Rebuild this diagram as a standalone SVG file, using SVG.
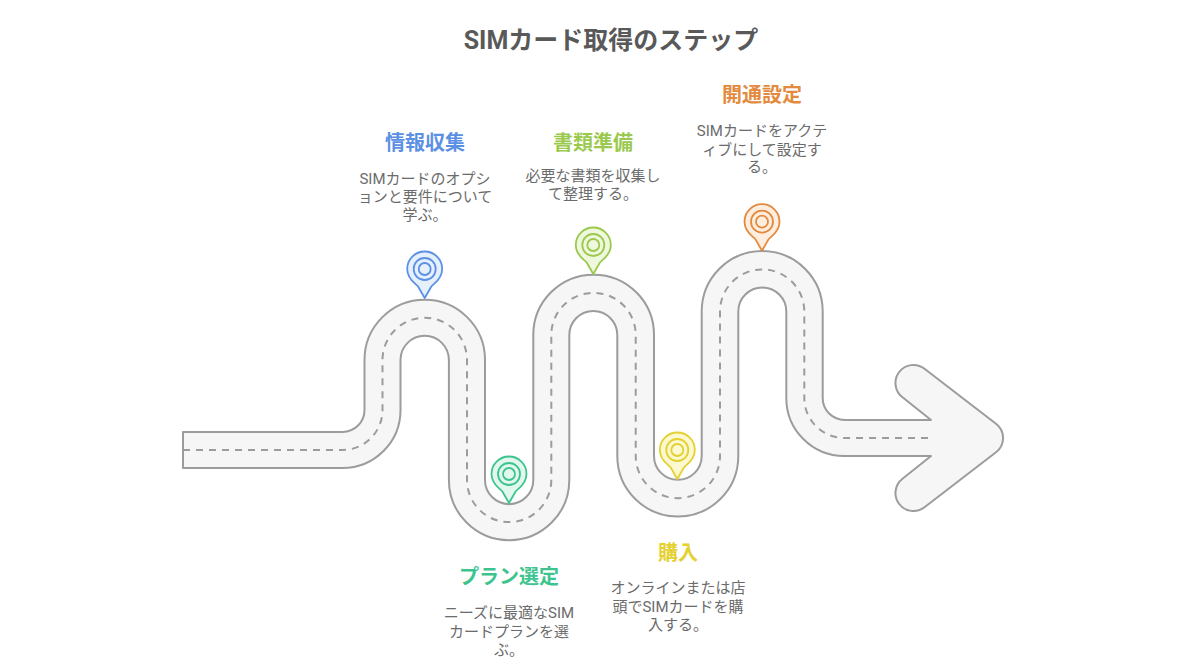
<svg xmlns="http://www.w3.org/2000/svg" width="1200" height="672" viewBox="0 0 1200 672">
<style>
text{font-family:"Roboto","Noto Sans CJK JP",sans-serif;text-anchor:middle}
.t{font-size:25px;font-weight:700;fill:#595959}
.h{font-size:20px;font-weight:700}
.d{font-size:15px;fill:#6b6b6b}
.road{fill:#f6f6f6;stroke:#9c9c9c;stroke-width:2;stroke-linejoin:round}
.dash{fill:none;stroke:#9c9c9c;stroke-width:2;stroke-dasharray:7 6}
.ring{fill:none;stroke-width:1.8}
.pin{stroke-width:1.8;stroke-linejoin:round}
</style>
<defs>
<g id="pin">
<path class="pin" d="M0 14.5L-6.5 3.2C-8 .7 -17.5 -3.5 -17.5 -14.5A17.5 17.5 0 0 1 17.5 -14.5C17.5 -3.5 8 .7 6.5 3.2Z" transform="translate(0,14.5)"/>
<circle class="ring" r="11"/>
<circle class="ring" r="6"/>
</g>
</defs>
<rect width="1200" height="672" fill="#fff"/>
<text class="t" x="611" y="49">SIMカード取得のステップ</text>
<g id="connectors">
<path id="road" class="road" d="M183 432H342.5A22 22 0 0 0 364.5 410V360A60.25 60.25 0 0 1 485 360V480A24.15 24.15 0 0 0 533.3 480V335A60.35 60.35 0 0 1 654 335V456A23.85 23.85 0 0 0 701.7 456V311.5A60.5 60.5 0 0 1 822.7 311.5V398A22 22 0 0 0 844.7 420H931L902.5 397.3A18 18 0 0 1 924.5 368.7L996 423.7A18 18 0 0 1 996 452.3L924.5 507.3A18 18 0 0 1 902.5 478.7L931 456H844.3A58 58 0 0 1 786.3 398V311.5A24 24 0 0 0 738.3 311.5V456A60.5 60.5 0 0 1 617.3 456V335A23.85 23.85 0 0 0 569.3 335V480A60.2 60.2 0 0 1 448.9 480V360A24.2 24.2 0 0 0 400.5 360V410A58 58 0 0 1 342.5 468H183Z"/>
<path id="centerline" class="dash" d="M183 450H342.5A40 40 0 0 0 382.5 410V360A42.25 42.25 0 0 1 467 360V480A42.15 42.15 0 0 0 551.3 480V335A42.2 42.2 0 0 1 635.7 335V456A42.15 42.15 0 0 0 720 456V311.5A42.15 42.15 0 0 1 804.3 311.5V398A40 40 0 0 0 844.3 438H930"/>
</g>
<g id="step1">
<use href="#pin" x="424.7" y="269" fill="#e6f0fd" stroke="#5b90e4"/>
<text class="h" x="425" y="150" fill="#5b90e4">情報収集</text>
<text class="d"><tspan x="425" y="184">SIMカードのオプシ</tspan><tspan x="425" y="202">ョンと要件について</tspan><tspan x="425" y="220">学ぶ。</tspan></text>
</g>
<g id="step2">
<use href="#pin" x="509" y="474" fill="#e2f8ee" stroke="#3dc48e"/>
<text class="h" x="509" y="584" fill="#3dc48e">プラン選定</text>
<text class="d"><tspan x="509" y="618">ニーズに最適なSIM</tspan><tspan x="509" y="637">カードプランを選</tspan><tspan x="509" y="655">ぶ。</tspan></text>
</g>
<g id="step3">
<use href="#pin" x="593.3" y="245" fill="#eff8dc" stroke="#9ac94e"/>
<text class="h" x="593" y="150" fill="#9ac94e">書類準備</text>
<text class="d"><tspan x="593" y="181">必要な書類を収集し</tspan><tspan x="593" y="199">て整理する。</tspan></text>
</g>
<g id="step4">
<use href="#pin" x="677.3" y="450" fill="#fcf8cf" stroke="#e4d02f"/>
<text class="h" x="678" y="560" fill="#e4d02f">購入</text>
<text class="d"><tspan x="678" y="593">オンラインまたは店</tspan><tspan x="678" y="612">頭でSIMカードを購</tspan><tspan x="678" y="630">入する。</tspan></text>
</g>
<g id="step5">
<use href="#pin" x="762" y="221.7" fill="#fdeee0" stroke="#e38a3e"/>
<text class="h" x="762" y="102" fill="#e38a3e">開通設定</text>
<text class="d"><tspan x="762" y="136">SIMカードをアクテ</tspan><tspan x="762" y="155">ィブにして設定す</tspan><tspan x="762" y="172">る。</tspan></text>
</g>
</svg>
